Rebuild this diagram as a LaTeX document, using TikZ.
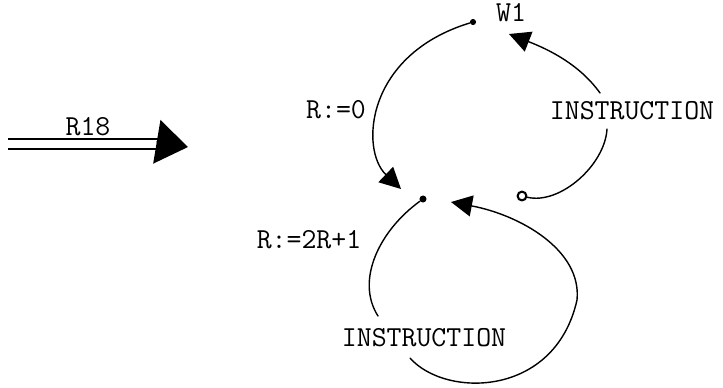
\documentclass[tikz,border=0pt]{standalone}
\usepackage{fontspec}
\usepackage{tikz}
\usetikzlibrary{calc,arrows.meta}

\tikzset{
  lbl/.style={font=\ttfamily\fontsize{16.5}{19}\selectfont, inner sep=1pt},
  pin/.style={circle, fill, inner sep=0pt, minimum size=3.5pt},
  loopdot/.style={circle, draw, line width=1.2pt, inner sep=0pt, minimum size=5pt},
  wire/.style={line width=0.8pt},
  head/.style={-{Triangle[length=12pt,width=12pt]}}
}

\begin{document}
\begin{tikzpicture}[x=0.02cm,y=-0.02cm,line join=round,line cap=round]

  \useasboundingbox (0,0) rectangle (723,387);

  % 1. the rule R18
  \coordinate (src) at (8,144);
  \coordinate (dst) at (170,144);
  \coordinate (dsttip) at (188,147);
  \node[lbl] (rule) at (88,127) {R18};
  \draw[line width=1pt, line cap=butt, double, double distance=4.7pt] (src) -- (dst);
  \draw[line width=1pt, -{Triangle[length=18pt,width=25pt]}] (dst) -- (dsttip);

  % 2. the three points of the graph
  \node[pin] (w) at (473,22) {};
  \node[pin, minimum size=4pt] (a) at (423,199) {};
  \node[loopdot] (b) at (522,196) {};
  \node[lbl] (wname) at (511,13) {W1};

  % 3. labels
  \node[lbl] (set0) at (336,110) {R:=0};
  \node[lbl] (set1) at (309,240) {R:=2R+1};
  \node[lbl] (instrR) at (632,111) {INSTRUCTION};
  \node[lbl] (instrB) at (424,338) {INSTRUCTION};

  % 4. end points of the connectors
  \coordinate (atip) at (401,189);
  \coordinate (wtip) at (509,34);
  \coordinate (btip) at (451,202);
  \coordinate (r1) at (607,129);
  \coordinate (r2) at (600,93);
  \coordinate (l1) at (378,316);
  \coordinate (l2) at (410,358);

  % W1 -> R:=0 -> point
  \draw[wire, head] (w) .. controls (365,55) and (360,150) .. (atip);
  % right point -> INSTRUCTION -> W1
  \draw[wire] (b) .. controls (560,205) and (605,165) .. (r1);
  \draw[wire, head] (r2) .. controls (580,65) and (550,50) .. (wtip);
  % point -> R:=2R+1 -> INSTRUCTION -> point
  \draw[wire] (a) .. controls (380,230) and (355,280) .. (l1);
  \draw[wire, head] (l2) .. controls (445,398) and (555,398) .. (577,300)
    .. controls (582,250) and (520,215) .. (btip);

\end{tikzpicture}
\end{document}
